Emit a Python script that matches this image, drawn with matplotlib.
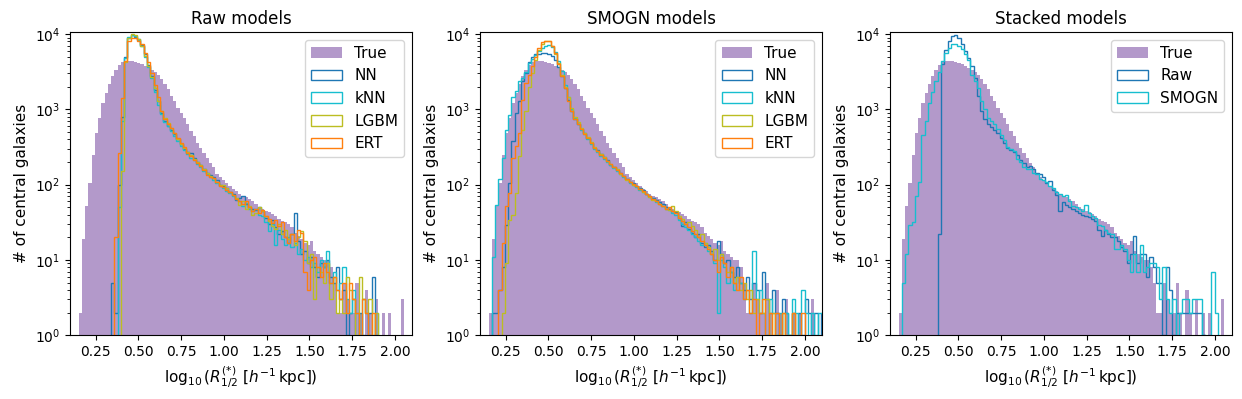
import numpy as np
import matplotlib
matplotlib.use("Agg")
import matplotlib.pyplot as plt

# ---------------- data (counts per bin) ----------------
bin_start = 0.150
bin_width = 0.01905

true_counts = [2, 19, 52, 105, 250, 480, 780, 1200, 1650, 2200,
               2800, 3300, 3850, 4250, 4400, 4450, 4350, 4250, 4150, 3950,
               3750, 3550, 3350, 3100, 2900, 2500, 2150, 1850, 1500, 1300,
               1050, 900, 780, 630, 510, 440, 360, 310, 265, 225,
               195, 172, 140, 125, 116, 106, 97, 88, 82, 76,
               71, 69, 65, 60, 56, 51, 48, 45, 43, 41,
               38, 35, 33, 32, 30, 27, 23, 21, 19, 17,
               16, 18, 13, 12, 11, 10, 10, 8, 5, 2,
               2, 5, 3, 2, 2, 5, 2, 1, 4, 2,
               1, 3, 1, 2, 1, 2, 1, 1, 0, 3]

# Raw models
nn_raw = [0, 0, 0, 0, 0, 0, 0, 0, 0, 0,
          5, 2, 100, 800, 5000, 8800, 9600, 9300, 8500, 7200,
          5400, 3900, 2800, 1800, 1300, 900, 700, 610, 540, 470,
          400, 350, 300, 270, 260, 225, 200, 180, 160, 145,
          135, 125, 115, 100, 95, 90, 80, 75, 62, 66,
          70, 56, 50, 48, 46, 50, 44, 36, 30, 34,
          27, 22, 24, 20, 17, 22, 42, 18, 12, 13,
          9, 11, 8, 6, 9, 8, 10, 6, 5, 8,
          3, 4, 1, 2, 3, 0, 2, 1, 0, 2,
          6, 1, 0, 0, 0, 0, 0, 0, 0, 0]
knn_raw = [0, 0, 0, 0, 0, 0, 0, 0, 0, 0,
           0, 0, 50, 700, 4800, 9300, 9800, 9400, 8300, 6900,
           5000, 3700, 2600, 1700, 1150, 870, 690, 600, 520, 440,
           380, 330, 290, 255, 225, 210, 190, 170, 150, 138,
           126, 116, 104, 95, 90, 82, 78, 70, 65, 60,
           52, 57, 48, 44, 47, 40, 38, 32, 24, 30,
           16, 25, 19, 16, 20, 15, 17, 12, 14, 10,
           11, 8, 9, 7, 10, 8, 13, 5, 7, 4,
           5, 8, 3, 2, 4, 2, 1, 3, 2, 1,
           1, 2, 0, 0, 0, 0, 0, 0, 0, 0]
lgbm_raw = [0, 0, 0, 0, 0, 0, 0, 0, 0, 0,
            0, 0, 0, 150, 4200, 9000, 9900, 9600, 8600, 7000,
            5200, 3800, 2700, 1900, 1300, 950, 760, 650, 560, 480,
            410, 350, 305, 275, 245, 220, 198, 180, 160, 142,
            130, 122, 108, 98, 100, 90, 80, 72, 66, 54,
            60, 48, 52, 40, 42, 50, 45, 38, 33, 28,
            26, 30, 22, 25, 19, 22, 16, 20, 24, 18,
            9, 12, 3, 8, 7, 5, 9, 3, 6, 2,
            3, 2, 6, 4, 3, 1, 6, 3, 2, 3,
            0, 2, 0, 0, 0, 0, 0, 0, 0, 0]
ert_raw = [0, 0, 0, 0, 0, 0, 0, 0, 0, 0,
           0, 20, 260, 1400, 4400, 8100, 8900, 8900, 8100, 7300,
           5600, 4200, 3000, 2100, 1450, 950, 740, 640, 570, 490,
           420, 360, 315, 265, 240, 215, 195, 175, 158, 135,
           128, 122, 110, 96, 92, 86, 80, 72, 64, 60,
           56, 60, 50, 45, 48, 42, 46, 38, 35, 31,
           34, 28, 32, 20, 17, 22, 18, 25, 23, 7,
           4, 10, 11, 8, 6, 9, 7, 5, 6, 4,
           3, 5, 2, 5, 3, 2, 1, 3, 2, 1,
           2, 0, 0, 0, 0, 0, 0, 0, 0, 0]

# SMOGN models (105 bins: predictions reach beyond the true range)
nn_smogn = [0, 2, 2, 4, 8, 29, 105, 380, 900, 1300,
            2400, 3000, 4200, 4900, 5400, 5500, 5600, 5600, 5400, 5200,
            4500, 3700, 2800, 1900, 1350, 950, 750, 640, 550, 480,
            420, 360, 310, 285, 255, 230, 210, 185, 170, 155,
            145, 130, 120, 110, 105, 95, 90, 84, 76, 70,
            66, 62, 58, 55, 50, 47, 45, 43, 36, 28,
            32, 26, 23, 20, 22, 17, 15, 16, 13, 10,
            18, 12, 9, 10, 7, 6, 8, 5, 4, 6,
            3, 5, 4, 2, 7, 3, 2, 4, 2, 1,
            3, 2, 1, 2, 0, 2, 1, 3, 2, 1,
            2, 0, 2, 0, 0]
knn_smogn = [0, 11, 54, 120, 225, 540, 850, 1450, 1750, 2400,
             2600, 3150, 4100, 4700, 5300, 6000, 6600, 7000, 7100, 6800,
             5800, 4400, 3200, 2100, 1450, 1000, 760, 640, 540, 465,
             400, 345, 295, 270, 240, 220, 200, 180, 165, 150,
             140, 128, 118, 105, 100, 92, 86, 80, 74, 68,
             64, 58, 56, 52, 48, 46, 42, 40, 34, 30,
             27, 25, 22, 20, 18, 16, 17, 13, 12, 9,
             2, 10, 8, 5, 7, 4, 6, 5, 3, 4,
             2, 13, 3, 4, 2, 1, 3, 2, 1, 2,
             0, 2, 1, 3, 2, 1, 4, 2, 0, 2,
             1, 2, 2, 0, 0]
lgbm_smogn = [0, 0, 0, 0, 2, 9, 34, 40, 78, 240,
              540, 940, 2000, 3000, 4500, 6200, 7500, 8200, 8000, 7000,
              5500, 4100, 2900, 2000, 1450, 1050, 800, 670, 570, 490,
              425, 365, 318, 282, 252, 230, 205, 190, 170, 160,
              140, 130, 115, 110, 100, 95, 88, 80, 76, 68,
              62, 60, 55, 52, 48, 46, 52, 44, 38, 35,
              30, 32, 28, 25, 20, 22, 17, 15, 12, 14,
              10, 12, 9, 7, 8, 5, 6, 4, 5, 3,
              4, 2, 3, 2, 2, 3, 1, 2, 1, 1,
              2, 0, 1, 2, 0, 0, 0, 0, 0, 0,
              0, 0, 0, 0, 0]
ert_smogn = [0, 0, 0, 4, 17, 52, 78, 225, 330, 490,
             1350, 2260, 2900, 3800, 5000, 6500, 7800, 8200, 8000, 7000,
             5600, 4000, 2800, 1900, 1300, 950, 750, 640, 545, 470,
             415, 355, 308, 278, 250, 226, 205, 188, 170, 155,
             142, 130, 118, 108, 102, 95, 88, 82, 74, 70,
             64, 60, 56, 52, 47, 50, 45, 42, 36, 33,
             30, 27, 24, 22, 20, 18, 16, 14, 12, 10,
             7, 11, 9, 6, 8, 5, 4, 6, 3, 4,
             2, 3, 1, 2, 3, 1, 2, 1, 2, 1,
             2, 1, 0, 2, 1, 1, 2, 0, 0, 0,
             0, 0, 0, 0, 0]

# Stacked models
raw_stacked = [0, 0, 0, 0, 0, 0, 0, 0, 0, 0,
               0, 0, 22, 4000, 6200, 8200, 9500, 9600, 8800, 7300,
               6000, 4800, 3800, 2600, 1500, 950, 740, 640, 580, 530,
               480, 415, 355, 305, 285, 275, 245, 215, 195, 172,
               177, 160, 145, 140, 128, 105, 112, 85, 72, 44,
               58, 54, 50, 48, 44, 42, 40, 38, 37, 35,
               33, 25, 21, 25, 22, 20, 20, 18, 15, 13,
               9, 12, 21, 9, 12, 12, 6, 11, 8, 5,
               5, 1, 8, 4, 1, 2, 2, 2, 2, 2,
               2, 2, 2, 1, 0, 0, 0, 0, 0, 0]
smogn_stacked = [0, 5, 12, 29, 32, 70, 110, 450, 700, 1200,
                 1700, 2400, 3100, 4400, 5600, 6600, 7300, 7300, 6900, 6300,
                 5400, 4500, 2900, 2400, 1900, 1300, 1000, 760, 700, 640,
                 550, 460, 395, 315, 295, 280, 220, 200, 172, 160,
                 160, 145, 140, 120, 115, 110, 95, 90, 80, 76,
                 70, 72, 60, 52, 50, 48, 44, 54, 42, 38,
                 36, 29, 28, 25, 23, 22, 14, 14, 16, 14,
                 10, 7, 12, 7, 16, 7, 8, 9, 9, 8,
                 3, 8, 3, 2, 3, 1, 2, 3, 3, 2,
                 3, 3, 3, 1, 0, 1, 7, 2, 0, 0]

panel_titles = ["Raw models", "SMOGN models", "Stacked models"]
model_labels = ["NN", "kNN", "LGBM", "ERT"]
stack_labels = ["Raw", "SMOGN"]

# ---------------- plotting ----------------
n_max = 105
edges = np.round(bin_start + bin_width * np.arange(n_max + 1), 6)
centers = 0.5 * (edges[:-1] + edges[1:])

true_color = "#b399ca"
cols4 = ["#1f77b4", "#17becf", "#bcbd22", "#ff7f0e"]
cols2 = ["#1f77b4", "#17becf"]

fig, axes = plt.subplots(1, 3, figsize=(12.42, 3.99), dpi=100)
fig.subplots_adjust(left=0.0564, right=0.992, bottom=0.160, top=0.920, wspace=0.199)

def draw_hist(ax, counts, **kw):
    n = len(counts)
    ax.hist(centers[:n], bins=edges[:n + 1], weights=counts, **kw)

panels = [
    (axes[0], [nn_raw, knn_raw, lgbm_raw, ert_raw], model_labels, cols4),
    (axes[1], [nn_smogn, knn_smogn, lgbm_smogn, ert_smogn], model_labels, cols4),
    (axes[2], [raw_stacked, smogn_stacked], stack_labels, cols2),
]

for (ax, series, labels, cols), title in zip(panels, panel_titles):
    draw_hist(ax, true_counts, color=true_color, label="True")
    for s, lab, c in zip(series, labels, cols):
        draw_hist(ax, s, histtype="step", color=c, linewidth=1.0, label=lab)
    ax.set_yscale("log")
    ax.set_ylim(1, 1.07e4)
    ax.set_xlim(0.1, 2.1)
    ax.set_xticks([0.25, 0.5, 0.75, 1.0, 1.25, 1.5, 1.75, 2.0])
    ax.set_title(title, fontsize=12)
    ax.set_xlabel(r"$\log_{10}(R_{1/2}^{(*)}\ [h^{-1}\,\mathrm{kpc}])$", fontsize=11)
    ax.set_ylabel("# of central galaxies", fontsize=11)
    ax.legend(loc="upper right", fontsize=11)

fig.savefig("out.png", dpi=100)
